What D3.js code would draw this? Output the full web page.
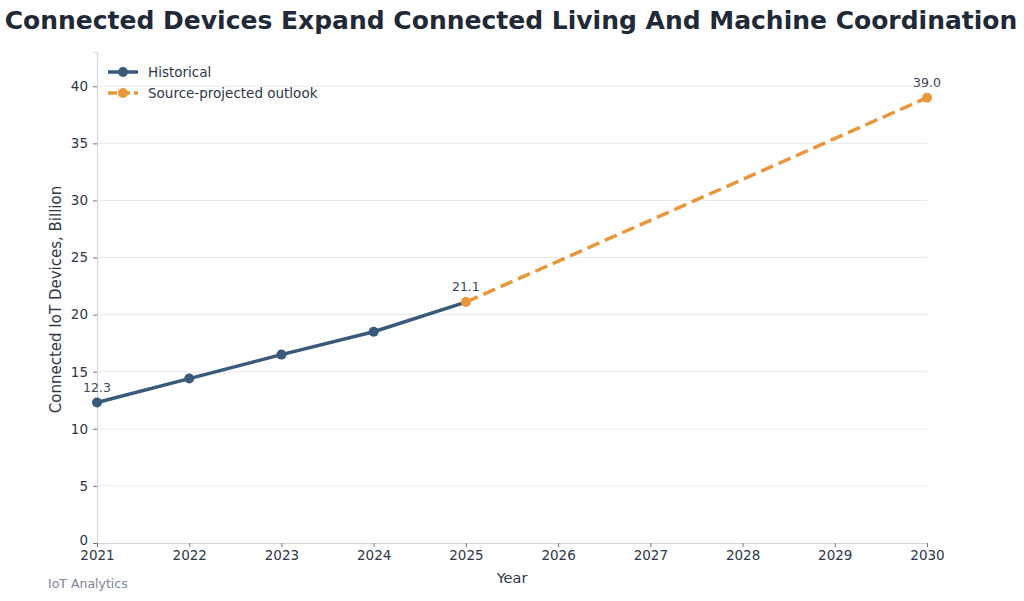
<!DOCTYPE html>
<html>
<head>
<meta charset="utf-8">
<script src="https://cdn.jsdelivr.net/npm/d3@7"></script>
<style>
  body { margin: 0; background: #fff; }
  text { font-family: "DejaVu Sans", sans-serif; }
</style>
</head>
<body>
<div class="canvas"></div>
<script>
// data
const histYears = [2021, 2022, 2023, 2024, 2025]
const histValues = [12.3, 14.4, 16.5, 18.5, 21.1]
const projYears = [2025, 2030]
const projValues = [21.1, 39.0]
const yTicks = [0, 5, 10, 15, 20, 25, 30, 35, 40]
const xTicks = [2021, 2022, 2023, 2024, 2025, 2026, 2027, 2028, 2029, 2030]

const W = 1024, H = 601
const m = {left: 97, right: 97, top: 52, bottom: 58}

const svg = d3.select('.canvas').append('svg')
    .attr('width', W).attr('height', H)

const x = d3.scaleLinear().domain([2021, 2030]).range([m.left, W - m.right])
const y = d3.scaleLinear().domain([0, 43]).range([H - m.bottom, m.top])

const ink = '#2d3748'
const blue = '#3a5a7c'
const orange = '#ea963b'

// title
svg.append('text')
    .attr('x', W/2 - 1).attr('y', 29)
    .attr('text-anchor', 'middle')
    .attr('font-size', 25).attr('font-weight', 'bold')
    .attr('fill', '#1f2937')
    .text('Connected Devices Expand Connected Living And Machine Coordination')

// grid
svg.append('g').selectAll('line')
    .data(yTicks.filter(d => d > 0))
    .enter().append('line')
    .attr('x1', m.left).attr('x2', W - m.right)
    .attr('y1', d => y(d)).attr('y2', d => y(d))
    .attr('stroke', '#e5e9f0').attr('stroke-width', 1)

// axes
const yAxis = svg.append('g')
    .attr('transform', `translate(${m.left},0)`)
    .call(d3.axisLeft(y).tickValues(yTicks).tickSize(4).tickPadding(5))
const xAxis = svg.append('g')
    .attr('transform', `translate(0,${H - m.bottom})`)
    .call(d3.axisBottom(x).tickValues(xTicks).tickFormat(d3.format('d')).tickSize(4).tickPadding(3))

;[yAxis, xAxis].forEach(a => {
    a.select('.domain').attr('stroke', '#cfd8e3').attr('stroke-width', 1.2)
    a.selectAll('.tick line').attr('stroke', '#6b7280')
    a.selectAll('.tick text').attr('fill', ink).attr('font-size', 13.5)
        .attr('font-family', '"DejaVu Sans", sans-serif')
})
yAxis.select('.tick text').attr('dy', '0.1em')

// axis titles
svg.append('text')
    .attr('x', (m.left + W - m.right)/2).attr('y', 583)
    .attr('text-anchor', 'middle').attr('font-size', 14.5).attr('fill', ink)
    .text('Year')
svg.append('text')
    .attr('transform', `translate(61,${(m.top + H - m.bottom)/2 + 2}) rotate(-90)`)
    .attr('text-anchor', 'middle').attr('font-size', 15).attr('fill', ink)
    .text('Connected IoT Devices, Billion')

svg.append('text')
    .attr('x', 48).attr('y', 588)
    .attr('font-size', 12.5).attr('fill', '#7a8596')
    .text('IoT Analytics')

// lines
const hist = histYears.map((d, i) => ({year: d, value: histValues[i]}))
const proj = projYears.map((d, i) => ({year: d, value: projValues[i]}))
const line = d3.line().x(d => x(d.year)).y(d => y(d.value))

svg.append('path').datum(proj)
    .attr('d', line).attr('fill', 'none')
    .attr('stroke', orange).attr('stroke-width', 3.5)
    .attr('stroke-dasharray', '13,6')

svg.append('path').datum(hist)
    .attr('d', line).attr('fill', 'none')
    .attr('stroke', blue).attr('stroke-width', 3.5)

svg.append('g').selectAll('circle')
    .data(hist.slice(0, -1)).enter().append('circle')
    .attr('cx', d => x(d.year)).attr('cy', d => y(d.value)).attr('r', 5)
    .attr('fill', blue)

svg.append('g').selectAll('circle')
    .data(proj).enter().append('circle')
    .attr('cx', d => x(d.year)).attr('cy', d => y(d.value)).attr('r', 5)
    .attr('fill', orange)

// value labels
const labels = [hist[0], hist[hist.length - 1], proj[proj.length - 1]]
svg.append('g').selectAll('text')
    .data(labels).enter().append('text')
    .attr('x', d => x(d.year)).attr('y', d => y(d.value) - 11)
    .attr('text-anchor', 'middle').attr('font-size', 12.5).attr('fill', '#3b4556')
    .text(d => d.value.toFixed(1))

// legend
const legend = svg.append('g').attr('transform', 'translate(108,72)')
const items = [
    {name: 'Historical', color: blue, dash: null},
    {name: 'Source-projected outlook', color: orange, dash: '9,4'}
]
const li = legend.selectAll('g').data(items).enter().append('g')
    .attr('transform', (d, i) => `translate(0,${i * 21})`)
li.append('line').attr('x1', 0).attr('x2', 30)
    .attr('stroke', d => d.color).attr('stroke-width', 3.5)
    .attr('stroke-dasharray', d => d.dash)
li.append('circle').attr('cx', 15).attr('r', 5).attr('fill', d => d.color)
li.append('text').attr('x', 40).attr('y', 5)
    .attr('font-size', 13.5).attr('fill', ink)
    .text(d => d.name)
</script>
</body>
</html>
